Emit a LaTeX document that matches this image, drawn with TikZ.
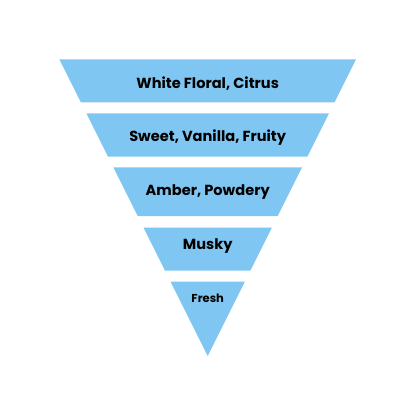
\documentclass[tikz,border=0pt]{standalone}
\usepackage{fontspec}
\setmainfont{Poppins}
\usetikzlibrary{positioning}
\definecolor{LayerBlue}{RGB}{127,199,242}

\begin{document}
\begin{tikzpicture}[
    x=1pt, y=-1pt,
    band/.style={fill=LayerBlue, draw=none},
    note/.style={font=\bfseries\fontsize{14.6}{16}\selectfont, text=black},
    small/.style={font=\bfseries\fontsize{11.5}{13}\selectfont, text=black},
]
\useasboundingbox (0,0) rectangle (416,416);

% bandas del cono invertido (apice en 207.7,356)
\foreach \ya/\yb in {59.3/102.3, 113.3/156.7, 167.3/216, 227.7/270.7, 281.7/356}
    \fill[band] ({207.7-0.5*(356-\ya)},\ya) -- ({207.7+0.5*(356-\ya)},\ya)
        -- ({207.7+0.5*(356-\yb)},\yb) -- ({207.7-0.5*(356-\yb)},\yb) -- cycle;

% notas
\node[note] (top)    at (207.7,84)  {White Floral, Citrus};
\node[note] (heart)  at (207.7,138) {Sweet, Vanilla, Fruity};
\node[note] (amber)  at (207.7,192.5) {Amber, Powdery};
\node[note] (musky)  at (207.7,246) {Musky};
\node[small] (fresh) at (207.7,298.5) {Fresh};

\end{tikzpicture}
\end{document}
